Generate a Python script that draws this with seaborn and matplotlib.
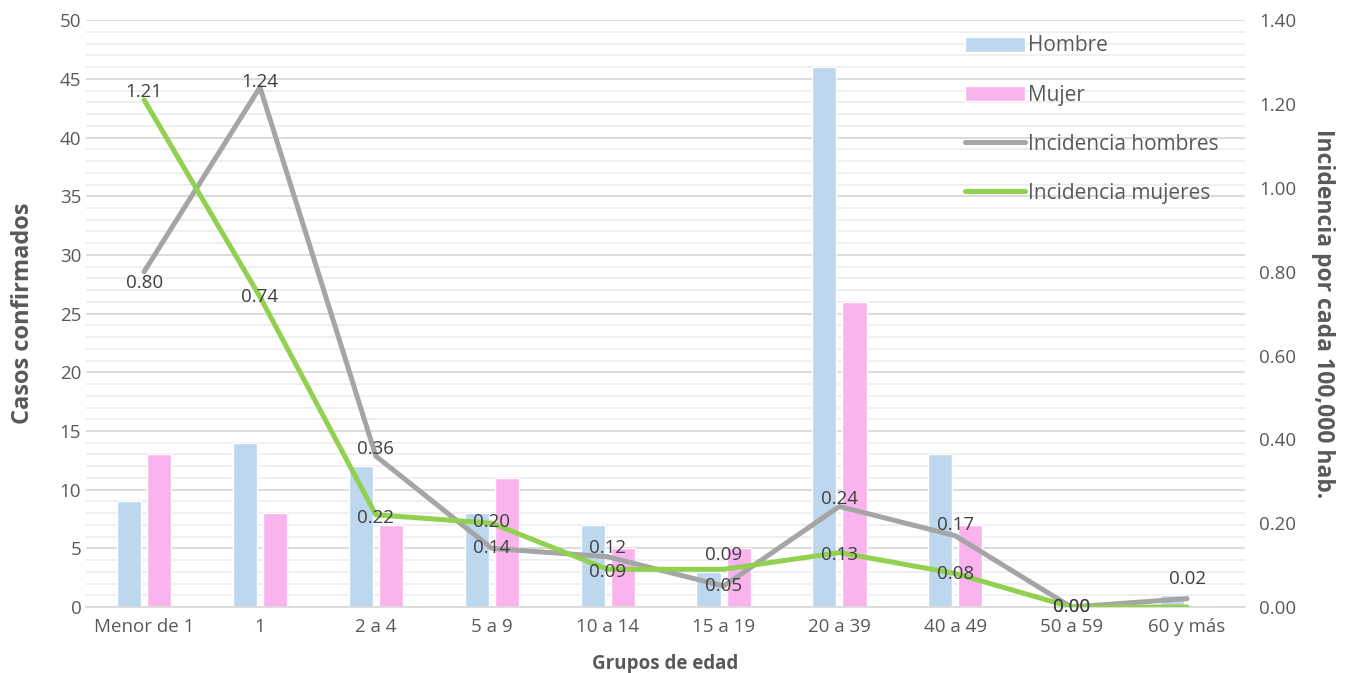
import numpy as np
import pandas as pd
import matplotlib
matplotlib.use("Agg")
import matplotlib.pyplot as plt
import seaborn as sns
from matplotlib.ticker import MultipleLocator, FormatStrFormatter
from matplotlib.patches import Patch
from matplotlib.lines import Line2D

# Data
grupos = ["Menor de 1", "1", "2 a 4", "5 a 9", "10 a 14", "15 a 19",
          "20 a 39", "40 a 49", "50 a 59", "60 y más"]
casos_hombre = [9, 14, 12, 8, 7, 3, 46, 13, 0, 1]
casos_mujer = [13, 8, 7, 11, 5, 5, 26, 7, 0, 0]
inc_hombres = [0.80, 1.24, 0.36, 0.14, 0.12, 0.05, 0.24, 0.17, 0.00, 0.02]
inc_mujeres = [1.21, 0.74, 0.22, 0.20, 0.09, 0.09, 0.13, 0.08, 0.00, 0.00]

# vertical offsets (points) for the data labels, None = no label
dy_hombres = [-8, 4, 5, 0, 6, 0, 5, 8, 0, 14]
dy_mujeres = [6, 0, -2, 1, -2, 10, -2, 0, 0, None]

c_hombre = "#BDD7EE"
c_mujer = "#F9B4EE"
c_gris = "#A5A5A5"
c_verde = "#92D050"
c_texto = "#595959"

sns.set_theme(style="white")
plt.rcParams["font.family"] = ["Open Sans", "DejaVu Sans"]

df = pd.DataFrame({
    "grupo": grupos * 2,
    "casos": casos_hombre + casos_mujer,
    "sexo": ["Hombre"] * len(grupos) + ["Mujer"] * len(grupos),
})

fig = plt.figure(figsize=(13.46, 6.73), dpi=100)
ax = fig.add_axes([0.064, 0.098, 0.861, 0.872])

ax.yaxis.set_major_locator(MultipleLocator(5))
ax.yaxis.set_minor_locator(MultipleLocator(1))
ax.grid(which="minor", axis="y", color="#EEEEEE", lw=1.3)
ax.grid(which="major", axis="y", color="#D9D9D9", lw=1.3)
ax.set_axisbelow(True)

sns.barplot(data=df, x="grupo", y="casos", hue="sexo", order=grupos,
            palette=[c_hombre, c_mujer], width=0.52, gap=0.2,
            saturation=1, legend=False, ax=ax)
ax.set_ylim(0, 50)
ax.set_xlim(-0.5, len(grupos) - 0.5)

ax2 = ax.twinx()
pos = np.arange(len(grupos))
sns.lineplot(x=pos, y=inc_hombres, color=c_gris, lw=3.6, ax=ax2,
             solid_capstyle="round")
sns.lineplot(x=pos, y=inc_mujeres, color=c_verde, lw=3.6, ax=ax2,
             solid_capstyle="round")
ax2.set_ylim(0, 1.4)
ax2.yaxis.set_major_locator(MultipleLocator(0.2))
ax2.yaxis.set_major_formatter(FormatStrFormatter("%.2f"))

for i in range(len(grupos)):
    ax2.annotate(f"{inc_hombres[i]:.2f}", (pos[i], inc_hombres[i]),
                 xytext=(0, dy_hombres[i]), textcoords="offset points",
                 ha="center", va="center", fontsize=13.5, color="#404040")
    if dy_mujeres[i] is not None:
        ax2.annotate(f"{inc_mujeres[i]:.2f}", (pos[i], inc_mujeres[i]),
                     xytext=(0, dy_mujeres[i]), textcoords="offset points",
                     ha="center", va="center", fontsize=13.5, color="#404040")

for a in (ax, ax2):
    for s in a.spines.values():
        s.set_visible(False)
    a.tick_params(axis="both", which="both", length=0, labelsize=13.5,
                  colors=c_texto)

ax.spines["bottom"].set_visible(True)
ax.spines["bottom"].set_color("#D9D9D9")
ax.set_xlabel("Grupos de edad", fontsize=13.5, fontweight="bold", color=c_texto)
ax.set_ylabel("Casos confirmados", fontsize=17, fontweight="bold", color=c_texto)
ax2.set_ylabel("Incidencia por cada 100,000 hab.", fontsize=16.5,
               fontweight="bold", color=c_texto, rotation=-90, labelpad=28)
ax.xaxis.labelpad = 13
ax.yaxis.labelpad = 18
ax.tick_params(axis="x", pad=8)
ax2.tick_params(axis="y", pad=10)

handles = [
    Patch(facecolor=c_hombre, label="Hombre"),
    Patch(facecolor=c_mujer, label="Mujer"),
    Line2D([0], [0], color=c_gris, lw=3.6, solid_capstyle="round",
           label="Incidencia hombres"),
    Line2D([0], [0], color=c_verde, lw=3.6, solid_capstyle="round",
           label="Incidencia mujeres"),
]
leg = ax2.legend(handles=handles, loc="upper left",
                 bbox_to_anchor=(0.742, 1.006), frameon=False, fontsize=15,
                 labelspacing=1.35, handlelength=2.9, handleheight=0.75,
                 handletextpad=0.15)
for t in leg.get_texts():
    t.set_color(c_texto)

fig.savefig("out.png", dpi=100)
